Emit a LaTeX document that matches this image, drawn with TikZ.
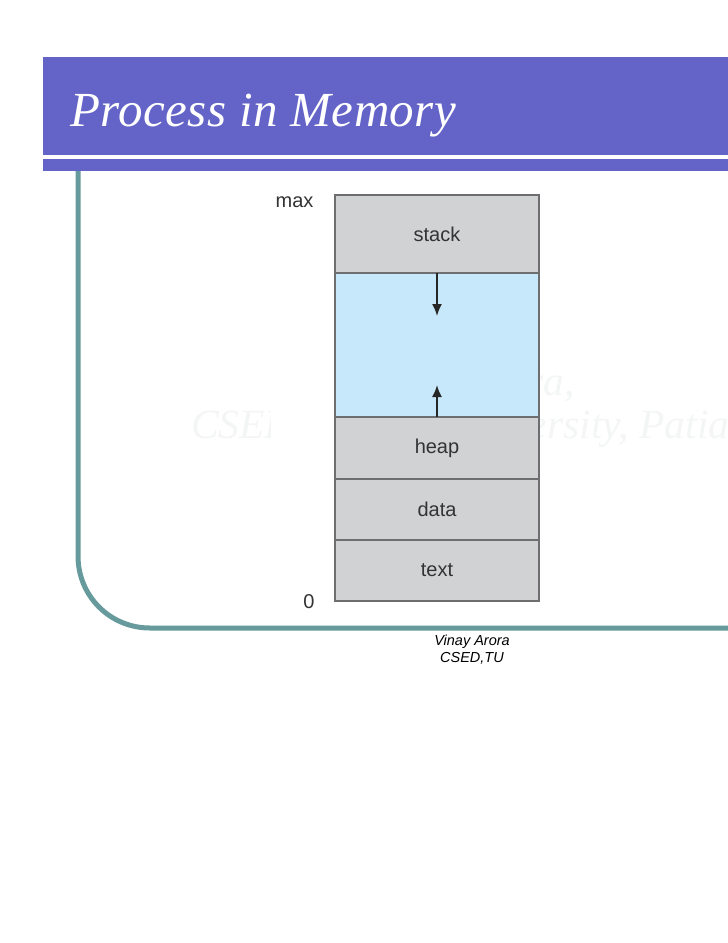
\documentclass[tikz,border=0pt]{standalone}
\usepackage{fontspec}
\setmainfont{Liberation Sans}
\newfontfamily\serifit{Liberation Serif}
\newfontfamily\titlefont[LetterSpace=1.0]{Liberation Serif}
\usetikzlibrary{arrows.meta}
\definecolor{band}{HTML}{6464C8}
\definecolor{teal1}{HTML}{669A9C}
\definecolor{seg}{HTML}{D1D2D4}
\definecolor{free}{HTML}{C7E8FA}
\definecolor{edge}{HTML}{6E6E70}
\definecolor{ink}{HTML}{333333}
\definecolor{wm}{HTML}{F4F6F6}
\tikzset{
 segbox/.style={draw=edge,line width=1.4pt,fill=seg,minimum width=204pt,inner sep=0pt,outer sep=0pt,anchor=north west,font=\fontsize{20}{24}\selectfont,text=ink},
 freebox/.style={segbox,fill=free},
 axislabel/.style={font=\fontsize{20}{24}\selectfont,text=ink,inner sep=0pt},
 growth/.style={draw=black!85,line width=1.8pt,-{Latex[length=12pt,width=10pt]}},
 wmark/.style={font=\serifit\itshape\fontsize{41.5}{50}\selectfont,text=wm,inner sep=0pt},
 author/.style={anchor=base,inner sep=0pt,font=\itshape\fontsize{14.5}{17}\selectfont}
}
\begin{document}
\begin{tikzpicture}[x=1pt,y=-1pt]
\useasboundingbox (0,0) rectangle (728,943);
\fill[white] (0,0) rectangle (728,943);
\begin{scope}
\clip (0,0) rectangle (728,943);
\fill[band] (43,57) rectangle (728,171);
\fill[white] (43,155) rectangle (728,158.5);
\node[anchor=base west,inner sep=0pt,text=white,font=\titlefont\itshape\fontsize{49}{58}\selectfont] (title) at (70,126) {Process in Memory};
\draw[teal1,line width=5pt] (78,171) -- (78,556) .. controls (78,596) and (110,628) .. (150,628) -- (728,628);
\node[wmark,anchor=base] (wm1) at (469,395) {Vinay Arora,};
\node[wmark,anchor=base west] (wm2) at (191,438) {CSED, Thapar University, Patiala};
\fill[white] (271,262) rectangle (539,600);
\end{scope}
\node[segbox,minimum height=78pt] (stack) at (335,195) {stack};
\node[freebox,minimum height=144pt] (gap) at (335,273) {};
\node[segbox,minimum height=62pt] (heap) at (335,417) {heap};
\node[segbox,minimum height=61pt] (data) at (335,479) {data};
\node[segbox,minimum height=61pt] (text) at (335,540) {text};
\node[axislabel,anchor=base] (max) at (294.5,207) {max};
\node[axislabel,anchor=base] (zero) at (309,608) {0};
\coordinate (dn) at (437,316);
\coordinate (up) at (437,385);
\draw[growth] (gap.north -| dn) -- (dn);
\draw[growth] (gap.south -| up) -- (up);
\node[author] (au1) at (472,645) {Vinay Arora};
\node[author] (au2) at (472,662) {CSED,TU};
\end{tikzpicture}
\end{document}
